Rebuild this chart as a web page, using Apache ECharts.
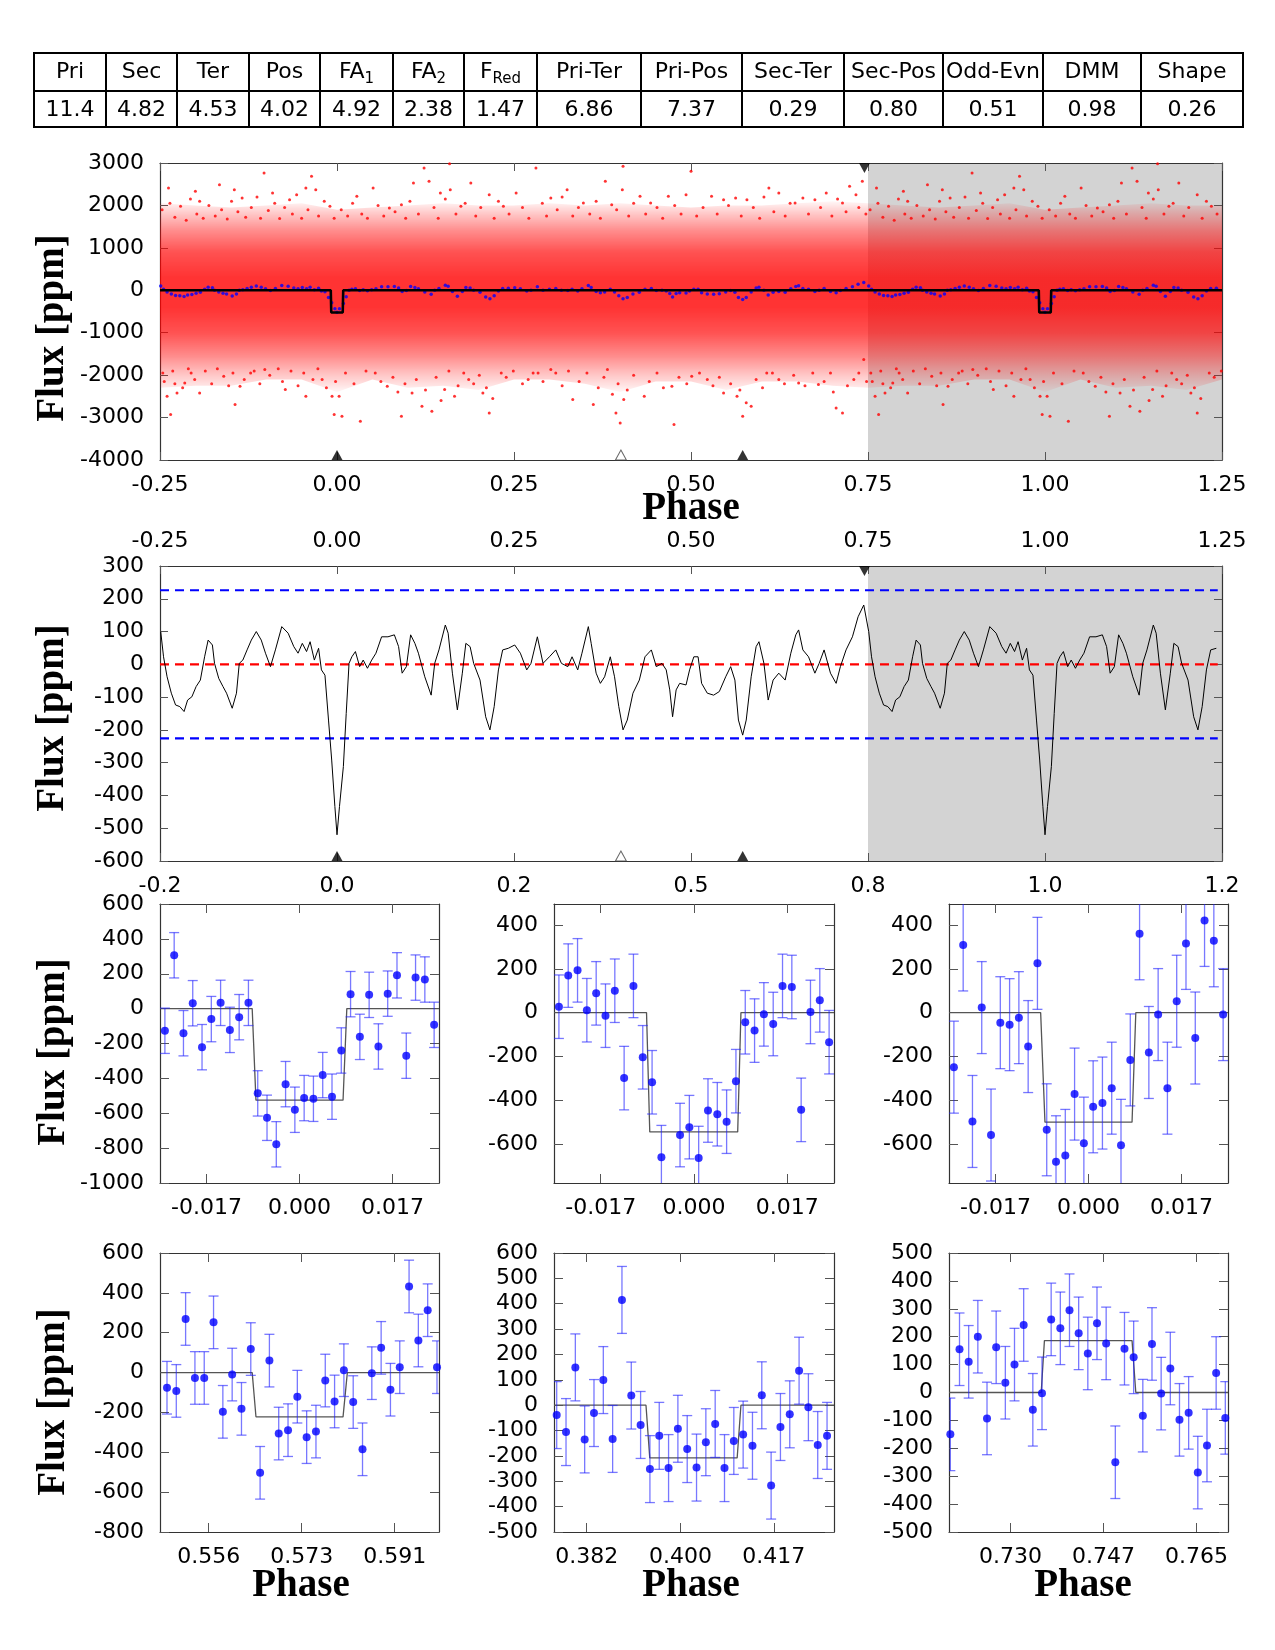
<!DOCTYPE html>
<html><head><meta charset="utf-8">
<script src="https://cdn.jsdelivr.net/npm/echarts@6/dist/echarts.min.js"></script>
<style>
html,body{margin:0;padding:0;background:#fff;}
#chart{position:absolute;left:0;top:0;width:1275px;height:1650px;}
#tbl{position:absolute;left:33px;top:52px;border-collapse:collapse;table-layout:fixed;width:1209px;
 font-family:'DejaVu Sans';font-size:22px;color:#000;}
#tbl td{border:2px solid #000;text-align:center;padding:0;white-space:nowrap;overflow:hidden;}
#tbl tr.h td{height:33px;padding-bottom:3px;}
#tbl tr.v td{height:33px;padding-bottom:1px;}
#tbl sub{font-size:15px;vertical-align:-5px;line-height:0;}
</style></head><body>
<div id="chart"></div>
<table id="tbl"></table>
<script>
// ================= DATA =================
const tableHeaders = ['Pri','Sec','Ter','Pos','FA<sub>1</sub>','FA<sub>2</sub>','F<sub>Red</sub>','Pri-Ter','Pri-Pos','Sec-Ter','Sec-Pos','Odd-Evn','DMM','Shape'];
const tableValues  = ['11.4','4.82','4.53','4.02','4.92','2.38','1.47','6.86','7.37','0.29','0.80','0.51','0.98','0.26'];

const phaseTickLabels      = ['-0.25','0.00','0.25','0.50','0.75','1.00','1.25'];
const phaseTickLabelsShort = ['-0.2','0.0','0.2','0.5','0.8','1.0','1.2'];
const shadeRange = [0.75, 1.25];

// smoothed (binned) flux, one period
const smoothPhase = [-0.249,-0.245,-0.240,-0.234,-0.228,-0.222,-0.216,-0.211,-0.205,-0.199,-0.193,-0.187,-0.182,-0.176,-0.173,-0.167,-0.161,-0.156,-0.148,-0.142,-0.138,-0.133,-0.127,-0.121,-0.114,-0.107,-0.101,-0.094,-0.087,-0.078,-0.069,-0.061,-0.055,-0.049,-0.043,-0.038,-0.032,-0.026,-0.022,-0.017,-0.012,-0.0075,-0.003,0.0,0.0035,0.009,0.013,0.017,0.021,0.026,0.032,0.037,0.043,0.049,0.055,0.063,0.072,0.081,0.087,0.092,0.098,0.104,0.110,0.115,0.124,0.133,0.138,0.144,0.153,0.157,0.163,0.170,0.177,0.182,0.188,0.193,0.202,0.210,0.216,0.222,0.228,0.234,0.242,0.251,0.259,0.268,0.274,0.283,0.291,0.300,0.309,0.317,0.326,0.332,0.340,0.346,0.355,0.359,0.366,0.372,0.378,0.386,0.392,0.398,0.404,0.410,0.418,0.427,0.435,0.444,0.451,0.459,0.465,0.470,0.474,0.479,0.484,0.493,0.498,0.504,0.510,0.515,0.523,0.532,0.540,0.549,0.556,0.562,0.567,0.573,0.578,0.585,0.592,0.596,0.603,0.609,0.616,0.624,0.633,0.641,0.648,0.652,0.658,0.666,0.675,0.681,0.688,0.697,0.705,0.711,0.719,0.728,0.736,0.744];
const smoothFlux = [100,23,-38,-88,-124,-129,-144,-109,-99,-68,-48,23,74,59,3,-43,-68,-88,-134,-88,3,13,44,74,100,74,34,-7,44,115,95,54,34,64,39,69,13,49,-17,-33,-170,-292,-434,-520,-434,-312,-150,3,23,39,-7,13,-12,13,34,84,84,90,54,-27,-7,90,64,34,-38,-94,3,44,120,95,-27,-139,-27,64,54,3,-48,-160,-200,-129,-17,44,49,59,34,-17,3,84,3,23,44,3,-7,23,-17,34,115,64,-27,-58,-38,23,-38,-129,-200,-170,-88,-48,23,44,-7,3,-17,-78,-160,-78,-58,-63,-17,23,23,-58,-88,-94,-83,-38,-7,-48,-170,-216,-170,-38,54,69,3,-109,-48,-27,-48,34,90,105,44,23,-27,3,44,-27,-58,-7,44,84,145,181];

// envelope of the unbinned (red) cloud, one period
const cloudPhase = [-0.25,-0.2,-0.15,-0.1,-0.05,0,0.05,0.1,0.15,0.2,0.25,0.3,0.35,0.4,0.45,0.5,0.55,0.6,0.65,0.7];
const cloudHi = [2050,2000,1950,2000,2050,1900,1950,2000,2050,2000,2000,2050,2000,2050,2000,1950,2000,2000,2050,2100];
const cloudLo = [-2300,-2250,-2250,-2100,-2100,-2400,-2100,-2300,-2250,-2350,-2100,-2100,-2200,-2400,-2150,-2150,-2350,-2150,-2150,-2250];

// sparse unbinned points at the edges of the cloud, one period
const cloudOutliers = [
[-0.238,2411],[-0.200,2332],[-0.194,2097],[-0.166,2489],[-0.145,2372],[-0.134,2175],[-0.103,2764],[-0.091,2293],[-0.067,2136],[-0.044,2411],[-0.036,2686],[-0.030,2372],[-0.010,1979],[0.028,2215],[0.051,2411],[0.074,1940],[0.091,2018],[0.108,2529],[0.123,2882],[0.130,2568],[0.146,2293],[0.159,2984],[0.160,2372],[0.175,1979],[0.189,2529],[0.215,2254],[0.235,1979],[0.253,2293],[0.281,2882],[0.302,2175],[0.325,2372],[0.348,2057],[0.379,2568],[0.388,2018],[0.404,2921],[0.403,2372],[0.428,2215],[0.443,2057],[0.468,2215],[0.500,2804],[0.529,2215],[0.546,2136],[0.563,2175],[0.579,2136],[0.610,2411],[0.624,2293],[0.647,2057],[0.658,2175],[0.675,2136],[0.691,2293],[0.714,2057],[0.724,2450],[0.733,2254],[0.742,2568],
[-0.246,-1950],[-0.240,-2497],[-0.235,-2929],[-0.229,-2200],[-0.226,-2419],[-0.215,-2183],[-0.206,-1948],[-0.194,-2419],[-0.160,-2026],[-0.144,-2694],[-0.137,-2262],[-0.122,-1948],[-0.102,-1869],[-0.073,-2340],[-0.044,-2497],[-0.021,-2105],[-0.007,-2497],[-0.004,-2929],[0.007,-2968],[0.033,-3086],[0.054,-1948],[0.071,-2262],[0.091,-2968],[0.106,-2419],[0.120,-2733],[0.134,-2851],[0.152,-2340],[0.166,-2497],[0.186,-2105],[0.206,-2419],[0.215,-2890],[0.232,-1948],[0.270,-2105],[0.284,-1948],[0.302,-1869],[0.333,-2576],[0.362,-2694],[0.382,-1869],[0.394,-2890],[0.400,-3126],[0.405,-2576],[0.434,-2497],[0.473,-2262],[0.476,-3165],[0.501,-2026],[0.523,-2105],[0.546,-2419],[0.565,-2497],[0.573,-2968],[0.585,-2733],[0.607,-1948],[0.624,-2105],[0.652,-2183],[0.680,-2223],[0.697,-1948],[0.705,-2772],[0.714,-2890],[0.730,-2105],[0.744,-1633],
[-0.247,1900],[-0.236,2050],[-0.229,1720],[-0.221,1980],[-0.213,1650],[-0.207,2150],[-0.198,1800],[-0.189,1700],[-0.181,2000],[-0.172,1750],[-0.163,1900],[-0.155,1680],[-0.149,2100],[-0.140,1850],[-0.129,1720],[-0.121,1950],[-0.113,2200],[-0.108,1700],[-0.097,1880],[-0.088,2050],[-0.081,1690],[-0.074,1950],[-0.063,1800],[-0.057,2250],[-0.050,1700],[-0.041,1900],[-0.026,1750],[-0.018,2100],[-0.004,1700],[0.006,1900],[0.015,1750],[0.022,2050],[0.035,1800],[0.043,1700],[0.058,2000],[0.066,1750],[0.082,1850],[0.097,1700],[0.103,2100],[0.115,1800],[0.137,1950],[0.143,1700],[0.153,2150],[0.168,1800],[0.181,2050],[0.196,1750],[0.203,1950],[0.222,1700],[0.228,2100],[0.243,1800],[0.262,1950],[0.271,1700],[0.290,2050],[0.296,1750],[0.311,1900],[0.318,2200],[0.333,1750],[0.341,1950],[0.357,1800],[0.366,2100],[0.372,1700],[0.395,1900],[0.412,1750],[0.419,2050],[0.436,1800],[0.452,1950],[0.460,1700],[0.477,2000],[0.486,1800],[0.493,2250],[0.508,1750],[0.517,1950],[0.537,1800],[0.553,2000],[0.571,1750],[0.588,1950],[0.597,1700],[0.603,2200],[0.617,1850],[0.633,1750],[0.640,2050],[0.666,1800],[0.683,1950],[0.699,1750],[0.707,2150],[0.719,1850],[0.737,1950],[0.747,1800],
[-0.244,-2150],[-0.232,-1900],[-0.218,-2300],[-0.210,-1850],[-0.201,-2100],[-0.186,-1900],[-0.177,-2200],[-0.169,-1850],[-0.153,-2250],[-0.147,-1950],[-0.131,-2100],[-0.117,-1900],[-0.109,-2200],[-0.095,-2000],[-0.083,-1850],[-0.077,-2150],[-0.065,-1900],[-0.055,-2250],[-0.047,-1950],[-0.034,-2100],[-0.027,-1850],[-0.015,-2300],[-0.002,-2150],[0.003,-2500],[0.012,-1950],[0.024,-2200],[0.041,-1900],[0.062,-2150],[0.079,-2050],[0.086,-2400],[0.096,-2200],[0.112,-2100],[0.125,-2350],[0.140,-2050],[0.147,-2600],[0.158,-1900],[0.171,-2250],[0.179,-1950],[0.193,-2200],[0.201,-2000],[0.211,-2300],[0.220,-2550],[0.239,-2050],[0.249,-1900],[0.262,-2200],[0.277,-1950],[0.291,-2150],[0.309,-1950],[0.318,-2250],[0.327,-1900],[0.342,-2150],[0.353,-1950],[0.369,-2300],[0.377,-2050],[0.389,-2450],[0.397,-2200],[0.410,-2350],[0.419,-2000],[0.441,-2150],[0.452,-1950],[0.461,-2300],[0.483,-2050],[0.494,-2200],[0.512,-1950],[0.531,-2250],[0.540,-2050],[0.556,-2200],[0.569,-2350],[0.578,-2650],[0.592,-2100],[0.601,-2300],[0.615,-1950],[0.632,-2200],[0.645,-2000],[0.661,-2250],[0.672,-1950],[0.688,-2150],[0.701,-2400],[0.721,-2250],[0.737,-1950],[0.748,-2150]];

// primary transit model
const modelPhase = [-0.25,-0.0088,-0.0081,0.0081,0.0088,0.9912,0.9919,1.0081,1.0088,1.25];
const modelFlux  = [0,0,-525,-525,0,0,-525,-525,0,0];

const thresholdLevels = [226, -226];
const thresholdSpan = [-0.25, 1.244];
const eventFilledBottom = [0.0, 0.573];
const eventOpenBottom = [0.401];
const eventFilledTop = [0.745];

// zoomed panels: A pri, B odd, C even, D sec, E ter, F pos
const miniX0   = [-0.02504,-0.02504,-0.02504,0.54825,0.37675,0.71880];
const miniStep = [0.001727,0.001727,0.001727,0.001732,0.001728,0.001705];
const miniA = [-127,306,-141,31,-221,-60,33,-122,-49,33,-486,-626,-778,-433,-580,-513,-517,-381,-505,-240,83,-162,79,-217,86,191,-270,178,167,-93];
const miniB = [27,169,193,11,88,-14,100,-299,122,-204,-318,-660,-950,-559,-523,-664,-447,-464,-498,-313,-44,-82,-8,-52,122,117,-444,3,56,-135];
const miniC = [-249,309,-497,23,-559,-46,-55,-23,-155,225,-535,-681,-652,-372,-596,-430,-413,-345,-606,-216,360,-182,-9,-345,52,316,-116,421,328,-9];
const miniD = [-76,-92,269,-27,-27,252,-197,-10,-182,118,-503,60,-306,-289,-121,-324,-296,-40,-145,12,-148,-385,-3,124,-86,27,432,161,313,27];
const miniE = [-39,-106,149,-135,-31,99,-133,415,38,-78,-252,-121,-248,-93,-173,-246,-146,-74,-248,-141,-116,-160,39,-317,-86,-36,136,-8,-157,-121];
const miniF = [-150,155,110,200,-93,162,35,100,242,-62,-3,262,230,295,212,140,248,176,-250,157,126,-83,174,-4,86,-98,-73,-287,-190,70,-91];
const miniErr = [130,145,210,132,132,130];
const miniXRange = [[-0.02595,0.02595],[-0.02595,0.02595],[-0.02595,0.02595],[0.54695,0.59885],[0.37625,0.42815],[0.71855,0.77045]];
const miniYRange = [[-1000,600],[-778,496],[-778,496],[-800,600],[-500,600],[-500,500]];
const miniYTicks = [[-1000,-800,-600,-400,-200,0,200,400,600],[-600,-400,-200,0,200,400],[-600,-400,-200,0,200,400],[-800,-600,-400,-200,0,200,400,600],[-500,-400,-300,-200,-100,0,100,200,300,400,500,600],[-500,-400,-300,-200,-100,0,100,200,300,400,500]];
const miniXTicks = [[-0.0173,0,0.0173],[-0.0173,0,0.0173],[-0.0173,0,0.0173],[0.5560,0.5733,0.5906],[0.3823,0.3997,0.4170],[0.7300,0.7473,0.7646]];
const miniXTickLabels = [['-0.017','0.000','0.017'],['-0.017','0.000','0.017'],['-0.017','0.000','0.017'],['0.556','0.573','0.591'],['0.382','0.400','0.417'],['0.730','0.747','0.765']];
const miniModelX = [[-0.02595,-0.0088,-0.0081,0.0081,0.0088,0.02595],[-0.02595,-0.0088,-0.0082,0.0081,0.0087,0.02595],[-0.02595,-0.0089,-0.0081,0.0081,0.0088,0.02595],[0.54695,0.5641,0.5648,0.5810,0.5818,0.59885],[0.37625,0.3933,0.3940,0.4102,0.4109,0.42815],[0.71855,0.7357,0.7363,0.7526,0.7533,0.77045]];
const miniModelY = [[0,0,-525,-525,0,0],[0,0,-545,-545,0,0],[0,0,-500,-500,0,0],[0,0,-222,-222,0,0],[0,0,-208,-208,0,0],[0,0,186,186,0,0]];

// ================= TABLE =================
const colW = [72,71,72,71,73,71,73,104,101,102,99,100,98,102];
(function(){
  let h = '<colgroup>' + colW.map(w => `<col style="width:${w}px">`).join('') + '</colgroup>';
  h += '<tr class="h">' + tableHeaders.map(t => `<td>${t}</td>`).join('') + '</tr>';
  h += '<tr class="v">' + tableValues.map(t => `<td>${t}</td>`).join('') + '</tr>';
  document.getElementById('tbl').innerHTML = h;
})();

// ================= CHART =================
const FONT = 'DejaVu Sans';
const chart = echarts.init(document.getElementById('chart'), null, {width:1275, height:1650});

const grids = [
  {left:160, top:163, width:1062, height:297},
  {left:160, top:566, width:1062, height:295},
  {left:160, top:904, width:279, height:279},
  {left:554, top:904, width:280, height:279},
  {left:949, top:904, width:279, height:279},
  {left:160, top:1253, width:279, height:279},
  {left:554, top:1253, width:280, height:279},
  {left:949, top:1253, width:279, height:279}
];

const xAxes = [], yAxes = [], series = [];
function axLine(){ return {show:true, onZero:false, lineStyle:{color:'#333', width:1.2}}; }
function tick(len, cv){ const t = {show:true, inside:true, length:len, lineStyle:{color:'#555', width:1}}; if (cv) t.customValues = cv; return t; }
function lbl(fmt, margin, cv){
  if (!fmt) return {show:false};
  const l = {show:true, margin:margin, fontSize:22, fontFamily:FONT, color:'#000', formatter:fmt};
  if (cv) l.customValues = cv;
  return l;
}
function addAxes(gi, o){
  const xb = {type:'value', gridIndex:gi, position:'bottom', min:o.xr[0], max:o.xr[1], axisLine:axLine(), axisTick:tick(o.tl, o.xcv), axisLabel:lbl(o.xfb, 14, o.xcv), splitLine:{show:false}};
  const xt = {type:'value', gridIndex:gi, position:'top', min:o.xr[0], max:o.xr[1], axisLine:axLine(), axisTick:tick(o.tl, o.xcv), axisLabel:lbl(o.xft, 14, o.xcv), splitLine:{show:false}};
  if (o.xi) { xb.interval = o.xi; xt.interval = o.xi; }
  const yl = {type:'value', gridIndex:gi, position:'left', min:o.yr[0], max:o.yr[1], axisLine:axLine(), axisTick:tick(o.tl, o.ycv), axisLabel:lbl(v => String(v), 16, o.ycv), splitLine:{show:false}};
  const yr = {type:'value', gridIndex:gi, position:'right', min:o.yr[0], max:o.yr[1], axisLine:axLine(), axisTick:tick(o.tl, o.ycv), axisLabel:{show:false}, splitLine:{show:false}};
  if (o.yi) { yl.interval = o.yi; yr.interval = o.yi; }
  xAxes.push(xb, xt); yAxes.push(yl, yr);
}
const phaseIdx = v => Math.round((v + 0.25) / 0.25);

addAxes(0, {xr:[-0.25,1.25], xi:0.25, yr:[-4000,3000], yi:1000, tl:8,
  xfb: v => phaseTickLabels[phaseIdx(v)], xft:null});
addAxes(1, {xr:[-0.25,1.25], xi:0.25, yr:[-600,300], yi:100, tl:8,
  xfb: v => phaseTickLabelsShort[phaseIdx(v)], xft: v => phaseTickLabels[phaseIdx(v)]});
for (let k = 0; k < 6; k++) {
  const ticks = miniXTicks[k], labs = miniXTickLabels[k];
  const fmt = v => { let b = 0; for (let i = 1; i < ticks.length; i++) if (Math.abs(ticks[i]-v) < Math.abs(ticks[b]-v)) b = i; return labs[b]; };
  addAxes(2 + k, {xr:miniXRange[k], xcv:ticks, xfb:fmt, xft:null, yr:miniYRange[k], ycv:miniYTicks[k], tl:9});
}

function extend(px, py){
  const out = [];
  for (let i = 0; i < px.length; i++) out.push([px[i], py[i]]);
  for (let i = 0; i < px.length; i++) if (px[i] <= 0.2505) out.push([px[i] + 1, py[i]]);
  return out;
}
const smoothPts = extend(smoothPhase, smoothFlux);
const cloudHiPts = extend(cloudPhase, cloudHi);
const cloudLoPts = extend(cloudPhase, cloudLo);
const outlierPts = extend(cloudOutliers.map(p => p[0]), cloudOutliers.map(p => p[1]));

function shadeSeries(ai){
  return {type:'custom', xAxisIndex:ai, yAxisIndex:ai, z:-5, silent:true, data:[shadeRange],
    renderItem:(p, api) => {
      const cs = p.coordSys;
      const x0 = api.coord([api.value(0), 0])[0], x1 = api.coord([api.value(1), 0])[0];
      return {type:'rect', shape:{x:x0, y:cs.y, width:x1 - x0, height:cs.height}, style:{fill:'#d3d3d3'}};
    }};
}
function markerSeries(ai, ymin, ymax){
  return [
    {type:'scatter', xAxisIndex:ai, yAxisIndex:ai, z:8, clip:false, symbol:'triangle', symbolSize:[11,10], symbolOffset:[0,-5],
     itemStyle:{color:'#000'}, data:eventFilledBottom.map(x => [x, ymin])},
    {type:'scatter', xAxisIndex:ai, yAxisIndex:ai, z:8, clip:false, symbol:'triangle', symbolSize:[11,10], symbolOffset:[0,-5],
     itemStyle:{color:'#fff', borderColor:'#444', borderWidth:1}, data:eventOpenBottom.map(x => [x, ymin])},
    {type:'scatter', xAxisIndex:ai, yAxisIndex:ai, z:8, clip:false, symbol:'triangle', symbolRotate:180, symbolSize:[11,10], symbolOffset:[0,5],
     itemStyle:{color:'#000'}, data:eventFilledTop.map(x => [x, ymax])}
  ];
}

// ---- panel 1
series.push(shadeSeries(0));
series.push({type:'custom', xAxisIndex:0, yAxisIndex:0, z:1, silent:true, data:[[0,0]],
  renderItem:(p, api) => {
    const pts = [];
    cloudHiPts.forEach(d => pts.push(api.coord(d)));
    for (let i = cloudLoPts.length - 1; i >= 0; i--) pts.push(api.coord(cloudLoPts[i]));
    const top = Math.max(...cloudHi), bot = Math.min(...cloudLo);
    const off = v => Math.min(1, Math.max(0, (top - v) / (top - bot)));
    const fill = new echarts.graphic.LinearGradient(0, 0, 0, 1, [
      {offset:0, color:'rgba(255,0,0,0.03)'},
      {offset:off(1800), color:'rgba(255,0,0,0.22)'},
      {offset:off(1400), color:'rgba(255,0,0,0.45)'},
      {offset:off(900), color:'rgba(255,0,0,0.68)'},
      {offset:off(300), color:'rgba(255,0,0,0.8)'},
      {offset:off(-400), color:'rgba(255,0,0,0.8)'},
      {offset:off(-1000), color:'rgba(255,0,0,0.68)'},
      {offset:off(-1550), color:'rgba(255,0,0,0.45)'},
      {offset:off(-2000), color:'rgba(255,0,0,0.22)'},
      {offset:1, color:'rgba(255,0,0,0.03)'}
    ]);
    return {type:'polygon', shape:{points:pts}, style:{fill:fill}};
  }});
series.push({type:'scatter', xAxisIndex:0, yAxisIndex:0, z:2, symbolSize:3, itemStyle:{color:'#ff0000'}, data:outlierPts});
series.push({type:'scatter', xAxisIndex:0, yAxisIndex:0, z:3, symbolSize:3.5, itemStyle:{color:'#0000ff'}, data:smoothPts});
series.push({type:'line', xAxisIndex:0, yAxisIndex:0, z:4, showSymbol:false, lineStyle:{color:'#000', width:2.6},
  data:modelPhase.map((x, i) => [x, modelFlux[i]])});
series.push(...markerSeries(0, -4000, 3000));

// ---- panel 2
series.push(shadeSeries(2));
thresholdLevels.forEach(v => series.push({type:'line', xAxisIndex:2, yAxisIndex:2, z:3, showSymbol:false,
  lineStyle:{color:'#0000ff', width:2.2, type:[9,6]}, data:[[thresholdSpan[0], v],[thresholdSpan[1], v]]}));
series.push({type:'line', xAxisIndex:2, yAxisIndex:2, z:3, showSymbol:false,
  lineStyle:{color:'#ff0000', width:2.2, type:[9,6]}, data:[[thresholdSpan[0], 0],[thresholdSpan[1], 0]]});
series.push({type:'line', xAxisIndex:2, yAxisIndex:2, z:4, showSymbol:false, lineStyle:{color:'#000', width:1}, data:smoothPts});
series.push(...markerSeries(2, -600, 300));

// ---- mini panels
const miniVals = [miniA, miniB, miniC, miniD, miniE, miniF];
for (let k = 0; k < 6; k++) {
  const ai = 2 * (2 + k);
  const pts = miniVals[k].map((v, i) => [miniX0[k] + i * miniStep[k], v, miniErr[k]]);
  series.push({type:'line', xAxisIndex:ai, yAxisIndex:ai, z:2, showSymbol:false, lineStyle:{color:'#555', width:1.3},
    data:miniModelX[k].map((x, i) => [x, miniModelY[k][i]])});
  series.push({type:'custom', xAxisIndex:ai, yAxisIndex:ai, z:3, clip:true, data:pts,
    renderItem:(p, api) => {
      const x = api.value(0), y = api.value(1), e = api.value(2);
      const a = api.coord([x, y + e]), b = api.coord([x, y - e]);
      const st = {stroke:'rgba(30,30,255,0.6)', lineWidth:1.3};
      return {type:'group', children:[
        {type:'line', shape:{x1:a[0], y1:a[1], x2:b[0], y2:b[1]}, style:st},
        {type:'line', shape:{x1:a[0]-5, y1:a[1], x2:a[0]+5, y2:a[1]}, style:st},
        {type:'line', shape:{x1:b[0]-5, y1:b[1], x2:b[0]+5, y2:b[1]}, style:st}
      ]};
    }});
  series.push({type:'scatter', xAxisIndex:ai, yAxisIndex:ai, z:4, symbolSize:8, itemStyle:{color:'#0000ff'},
    data:pts.map(d => [d[0], d[1]])});
}

// ---- titles
const TF = 'bold 39px "Liberation Serif"';
function vTitle(x, y){ return {type:'text', x:x, y:y, rotation:Math.PI/2, z:10, style:{text:'Flux [ppm]', font:TF, fill:'#000', align:'center', verticalAlign:'middle'}}; }
function hTitle(x, y){ return {type:'text', x:x, y:y, z:10, style:{text:'Phase', font:TF, fill:'#000', align:'center', verticalAlign:'middle'}}; }

chart.setOption({
  animation:false,
  textStyle:{fontFamily:FONT},
  grid:grids,
  xAxis:xAxes,
  yAxis:yAxes,
  series:series,
  graphic:[vTitle(53, 328), vTitle(53, 718), vTitle(54, 1052), vTitle(54, 1402),
           hTitle(691, 509), hTitle(301, 1586), hTitle(691, 1586), hTitle(1083, 1586)]
});
</script>
</body></html>
